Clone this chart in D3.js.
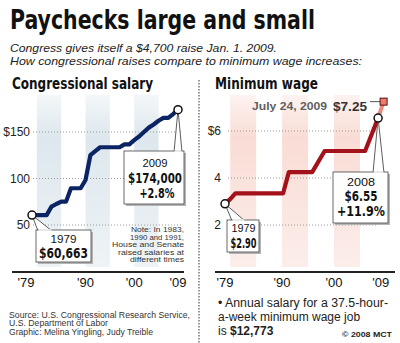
<!DOCTYPE html>
<html><head><meta charset="utf-8">
<script src="https://cdn.jsdelivr.net/npm/d3@7"></script>
<style>html,body{margin:0;padding:0;background:#fff;}svg{display:block;}</style>
</head><body>
<script>
// ---------- data ----------
const salaryYears = [1979,1980,1981,1982,1983,1984,1985,1986,1987,1988,1989,1990,1991,1992,1993,1994,1995,1996,1997,1998,1999,2000,2001,2002,2003,2004,2005,2006,2007,2008,2009];
const salaryValues = [60.663,60.663,60.663,60.663,69.8,72.6,75.1,75.1,89.5,89.5,89.5,98.4,125.1,129.5,133.6,133.6,133.6,133.6,133.6,136.7,136.7,141.3,145.1,150.0,154.7,158.1,162.1,165.2,165.2,169.3,174.0];
const wageYears = [1979,1980,1981,1990.2,1991.3,1995.8,1998.2,2006.0,2008.5];
const wageValues = [2.90,3.10,3.35,3.35,4.25,4.25,5.15,5.15,6.55];
const wageFutureYears = [2008.5,2009.56];
const wageFutureValues = [6.55,7.25];
const stripeBands = [[1980,1985],[1990,1995],[2000,2005]];
const xTickYears = [1979,1990,2000,2009];
const xTickLabels = ["'79","'90","'00","'09"];
const salaryTicks = [50,100,150];
const salaryTickLabels = ["50","100","$150"];
const wageTicks = [2,4,6];
const wageTickLabels = ["2","4","$6"];
const noteLines = ["Note: In 1983,","1990 and 1991,","House and Senate","raised salaries at","different times"];
const sourceLines = ["Source: U.S. Congressional Research Service,","U.S. Department of Labor","Graphic: Melina Yingling, Judy Treible"];

const W = 400, H = 343;
const svg = d3.select("body").append("svg").attr("width",W).attr("height",H);
svg.append("rect").attr("width",W).attr("height",H).attr("fill","#fff");
const defs = svg.append("defs");
function grad(id,color){
  const g = defs.append("linearGradient").attr("id",id).attr("x1",0).attr("y1",0).attr("x2",0).attr("y2",1);
  g.append("stop").attr("offset","0%").attr("stop-color",color).attr("stop-opacity",0.35);
  g.append("stop").attr("offset","25%").attr("stop-color",color).attr("stop-opacity",1);
  g.append("stop").attr("offset","100%").attr("stop-color",color).attr("stop-opacity",0.5);
}
grad("gBlue","#dde7ed");
grad("gPink","#f9dcd5");

const NARROW = "'Liberation Sans Narrow','Arial Narrow','DejaVu Sans Condensed','Liberation Sans',sans-serif";
const SANS = "'Liberation Sans',Arial,Helvetica,sans-serif";

function txt(x,y,s,o){
  o=o||{};
  const t = svg.append("text").attr("x",x).attr("y",y).text(s)
    .attr("font-family",o.ff||SANS).attr("font-size",o.fs||12)
    .attr("font-weight",o.fw||"normal").attr("font-style",o.it?"italic":"normal")
    .attr("fill",o.fill||"#111").attr("text-anchor",o.anchor||"start");
  if(o.len){t.attr("textLength",o.len).attr("lengthAdjust","spacingAndGlyphs");}
  return t;
}

// ---------- titles ----------
txt(10,29,"Paychecks large and small",{ff:NARROW,fs:27,fw:"bold",len:305});
txt(10,52,"Congress gives itself a $4,700 raise Jan. 1. 2009.",{fs:11.5,it:true,fill:"#222",len:267});
txt(10,65,"How congressional raises compare to minimum wage increases:",{fs:11.5,it:true,fill:"#222",len:352});
txt(12,89,"Congressional salary",{ff:NARROW,fs:16.5,fw:"bold",len:141});
txt(215,89,"Minimum wage",{ff:NARROW,fs:16.5,fw:"bold",len:103});

// separator
svg.append("line").attr("x1",199).attr("x2",199).attr("y1",80).attr("y2",343)
  .attr("stroke","#333").attr("stroke-width",1).attr("stroke-dasharray","1.5,1.5");

// ---------- panels ----------
function panel(cfg){
  const x = d3.scaleLinear().domain([1979,2009]).range(cfg.xr);
  const y = d3.scaleLinear().domain(cfg.yd).range(cfg.yr);
  const g = svg.append("g");
  g.selectAll("rect.stripe").data(stripeBands).join("rect")
    .attr("x",d=>x(d[0])).attr("width",d=>x(d[1])-x(d[0]))
    .attr("y",95).attr("height",172).attr("fill",cfg.stripe);
  g.selectAll("line.grid").data(cfg.ticks).join("line")
    .attr("x1",cfg.gx[0]).attr("x2",cfg.gx[1])
    .attr("y1",d=>y(d)).attr("y2",d=>y(d))
    .attr("stroke","#9a9a9a").attr("stroke-width",1).attr("stroke-dasharray","1,2");
  g.selectAll("text.ylab").data(cfg.ticks).join("text")
    .attr("x",cfg.ylabX).attr("y",d=>y(d)+4.3).attr("text-anchor","end")
    .attr("font-family",SANS).attr("font-size",12).attr("fill","#222")
    .text((d,i)=>cfg.tickLabels[i]);
  g.append("line").attr("x1",cfg.ax[0]).attr("x2",cfg.ax[1]).attr("y1",272).attr("y2",272)
    .attr("stroke","#222").attr("stroke-width",2);
  g.selectAll("text.xlab").data(xTickYears).join("text")
    .attr("x",(d,i)=>x(d)+(i===0?cfg.firstDx:0)).attr("y",287).attr("text-anchor","middle")
    .attr("font-family",SANS).attr("font-size",13).attr("fill","#111")
    .text((d,i)=>xTickLabels[i]);
  return {x,y,g};
}

const L = panel({xr:[32,178],yd:[50,150],yr:[225,132],stripe:"url(#gBlue)",ticks:salaryTicks,tickLabels:salaryTickLabels,gx:[33,181],ylabX:30,ax:[12,184],firstDx:-6});
const R = panel({xr:[225,380.7],yd:[2,6],yr:[225,131],stripe:"url(#gPink)",ticks:wageTicks,tickLabels:wageTickLabels,gx:[228,378],ylabX:221,ax:[215,395],firstDx:0});

// note text
const noteLens = [53,54,72,66,54];
noteLines.forEach((s,i)=>{
  txt(184,232+i*7.6,s,{fs:7.6,fill:"#333",anchor:"end",len:noteLens[i]});
});

// ---------- lines ----------
const salaryData = salaryYears.map((yr,i)=>[yr,salaryValues[i]]);
const wageData = wageYears.map((yr,i)=>[yr,wageValues[i]]);
const futureData = wageFutureYears.map((yr,i)=>[yr,wageFutureValues[i]]);

const lineL = d3.line().x(d=>L.x(d[0])).y(d=>L.y(d[1]));
const lineR = d3.line().x(d=>R.x(d[0])).y(d=>R.y(d[1]));

svg.append("path").attr("d",lineL(salaryData)).attr("fill","none")
  .attr("stroke","#0b2463").attr("stroke-width",4.2).attr("stroke-linejoin","round");
svg.append("path").attr("d",lineR(futureData)).attr("fill","none")
  .attr("stroke","#ea8a7d").attr("stroke-width",4);
svg.append("path").attr("d",lineR(wageData)).attr("fill","none")
  .attr("stroke","#a3121b").attr("stroke-width",4.2).attr("stroke-linejoin","round");

// ---------- callouts ----------
function callout(px,py,box,tail,lines){
  const [bx0,by0,bx1,by1]=box;
  svg.append("rect").attr("x",bx0+2).attr("y",by0+2).attr("width",bx1-bx0).attr("height",by1-by0).attr("fill","#b5b5b5");
  svg.append("polygon").attr("points",[[px,py],[tail[0],by0+1],[tail[1],by0+1]].map(p=>p.join(",")).join(" "))
    .attr("fill","#fff").attr("stroke","#333").attr("stroke-width",0.8);
  svg.append("rect").attr("x",bx0).attr("y",by0).attr("width",bx1-bx0).attr("height",by1-by0)
    .attr("fill","#fff").attr("stroke","#444").attr("stroke-width",0.8);
  svg.append("line").attr("x1",tail[0]+0.6).attr("x2",tail[1]-0.6).attr("y1",by0).attr("y2",by0)
    .attr("stroke","#fff").attr("stroke-width",1.4);
  lines.forEach(l=>{
    txt(l.x,l.y,l.t,{ff:l.b?NARROW:SANS,fs:l.fs,fw:l.b?"bold":"normal",anchor:"middle",len:l.len,fill:"#111"});
  });
}
const s0 = salaryData[0], s1 = salaryData[salaryData.length-1];
const w0 = wageData[0], w1 = wageData[wageData.length-1];

callout(L.x(s0[0]),L.y(s0[1]),[36,230,91,262],[38,52],[
  {x:63.5,y:243,t:"1979",fs:11.5,len:26},
  {x:63.5,y:258,t:"$60,663",fs:14.5,b:true,len:49}]);
callout(L.x(s1[0]),L.y(s1[1]),[124,151,184,204],[174,182],[
  {x:155,y:167,t:"2009",fs:11.5,len:25},
  {x:155,y:183,t:"$174,000",fs:14.5,b:true,len:54},
  {x:157,y:198,t:"+2.8%",fs:14,b:true,len:35}]);
callout(R.x(w0[0]),R.y(w0[1]),[227,220,259,252],[232,245],[
  {x:243.5,y:231.5,t:"1979",fs:11,len:24},
  {x:243.5,y:248,t:"$2.90",fs:14,b:true,len:26}]);
callout(R.x(w1[0]),R.y(w1[1]),[333,172,388,223],[373,384],[
  {x:361,y:186,t:"2008",fs:11.5,len:28},
  {x:361,y:200.5,t:"$6.55",fs:14,b:true,len:33},
  {x:361,y:215.5,t:"+11.9%",fs:14,b:true,len:48}]);

// markers
[[L.x(s0[0]),L.y(s0[1])],[L.x(s1[0]),L.y(s1[1])],[R.x(w0[0]),R.y(w0[1])],[R.x(w1[0]),R.y(w1[1])]].forEach(p=>{
  svg.append("circle").attr("cx",p[0]).attr("cy",p[1]).attr("r",4).attr("fill","#fff").attr("stroke","#111").attr("stroke-width",1.5);
});
const fEnd = futureData[futureData.length-1];
const sqx = R.x(fEnd[0]), sqy = R.y(fEnd[1]);
svg.append("line").attr("x1",370).attr("x2",sqx).attr("y1",sqy).attr("y2",sqy).attr("stroke","#555").attr("stroke-width",1);
svg.append("rect").attr("x",sqx-3.5).attr("y",sqy-3.5).attr("width",7).attr("height",7)
  .attr("fill","#ef7b6b").attr("stroke","#5a1010").attr("stroke-width",1);
txt(252,110,"July 24, 2009",{fs:11.5,fw:"bold",fill:"#5e5e5e",len:75});
txt(333,110.5,"$7.25",{fs:13.5,fw:"bold",fill:"#333",len:34});

// ---------- footers ----------
const sourceLens = [181,99,144];
sourceLines.forEach((s,i)=>{
  txt(9,317.5+i*8.5,s,{fs:8.3,fill:"#333",len:sourceLens[i]});
});

txt(218,307,"\u2022 Annual salary for a 37.5-hour-",{fs:12,fill:"#222",len:170});
txt(218,321,"a-week minimum wage job",{fs:12,fill:"#222"});
const last = txt(218,334.5,"is ",{fs:12,fill:"#222"});
last.append("tspan").attr("font-weight","bold").text("$12,773");
txt(392,337,"\u00a9 2008 MCT",{fs:8,fw:"bold",fill:"#222",anchor:"end",len:50});
</script>
</body></html>
